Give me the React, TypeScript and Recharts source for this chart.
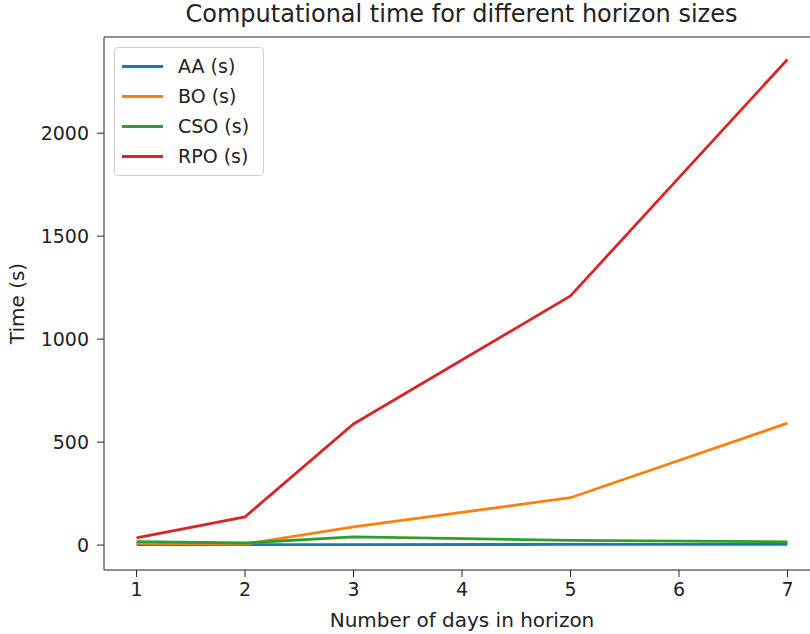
import { LineChart, Line, XAxis, YAxis, ReferenceLine } from 'recharts';

const days = [1, 2, 3, 5, 7];
const aaTimes = [2, 2, 2, 3, 3];
const boTimes = [8, 5, 88, 230, 592];
const csoTimes = [17, 10, 40, 23, 16];
const rpoTimes = [35, 137, 588, 1210, 2358];
const xTicks = [1, 2, 3, 4, 5, 6, 7];
const yTicks = [0, 500, 1000, 1500, 2000];

const series = [
  { key: 'AA (s)', color: '#1f77b4' },
  { key: 'BO (s)', color: '#ff7f0e' },
  { key: 'CSO (s)', color: '#2ca02c' },
  { key: 'RPO (s)', color: '#d62728' },
];

const data = days.map((d, i) => ({
  day: d,
  'AA (s)': aaTimes[i],
  'BO (s)': boTimes[i],
  'CSO (s)': csoTimes[i],
  'RPO (s)': rpoTimes[i],
}));

const FONT = '"DejaVu Sans", sans-serif';
const Y_MIN = -121;
const Y_MAX = 2467;

// legend drawn as an overlay so it doesn't eat plot space
const LegendBox = () => (
  <div style={{ position: 'absolute', left: 114, top: 47, background: 'rgba(255,255,255,0.8)', border: '1px solid #d0d0d0', borderRadius: 4, padding: '3px 14px 4px 7px', fontSize: 19, color: '#222' }}>
    {series.map(s => (
      <div key={s.key} style={{ display: 'flex', alignItems: 'center', height: 30 }}>
        <div style={{ width: 41, height: 3, background: s.color, marginRight: 15 }} />
        <span>{s.key}</span>
      </div>
    ))}
  </div>
);

export default function App() {
  return (
    <div style={{ position: 'absolute', left: 0, top: 0, width: 810, height: 634, overflow: 'hidden', background: '#fff', fontFamily: FONT }}>
      <div style={{ position: 'absolute', left: 0, width: 923, top: 0, textAlign: 'center', fontSize: 24, color: '#222' }}>
        Computational time for different horizon sizes
      </div>
      <LineChart width={830} height={634} data={data} margin={{ top: 37, right: 10, bottom: 0, left: 0 }}>
        <XAxis
          dataKey="day"
          type="number"
          domain={[0.7, 7.3]}
          ticks={xTicks}
          allowDataOverflow
          height={64}
          stroke="#222"
          tickSize={7}
          tickMargin={6}
          tick={{ fill: '#222', fontSize: 19, fontFamily: FONT }}
          label={{ value: 'Number of days in horizon', position: 'insideBottom', offset: 7, fill: '#222', fontSize: 20, fontFamily: FONT }}
        />
        <YAxis
          type="number"
          domain={[Y_MIN, Y_MAX]}
          ticks={yTicks}
          allowDataOverflow
          width={104}
          stroke="#222"
          tickSize={7}
          tickMargin={8}
          tick={{ fill: '#222', fontSize: 19, fontFamily: FONT }}
          label={{ value: 'Time (s)', angle: -90, position: 'insideLeft', offset: 17, fill: '#222', fontSize: 20, fontFamily: FONT, style: { textAnchor: 'middle' } }}
        />
        <ReferenceLine y={Y_MAX} stroke="#222" strokeWidth={1.2} ifOverflow="extendDomain" />
        {series.map(s => (
          <Line key={s.key} type="linear" dataKey={s.key} stroke={s.color} strokeWidth={2.8} dot={false} isAnimationActive={false} />
        ))}
      </LineChart>
      <LegendBox />
    </div>
  );
}
